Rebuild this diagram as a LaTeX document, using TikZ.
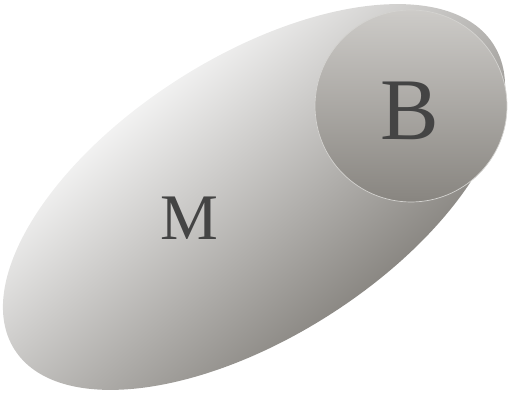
\documentclass[tikz,border=0pt]{standalone}
\usepackage{fontspec}
\setmainfont{Liberation Serif}
\usepackage{tikz}

\definecolor{setlight}{HTML}{F8F8F8}
\definecolor{setdark}{HTML}{84817C}
\definecolor{subtop}{HTML}{CDCBC8}
\definecolor{subbottom}{HTML}{888580}
\definecolor{labelgray}{HTML}{444444}

\pgfdeclareverticalshading{setshade}{100bp}{color(0bp)=(setdark); color(33bp)=(setdark); color(67bp)=(setlight); color(100bp)=(setlight)}

\begin{document}
\begin{tikzpicture}[
        x=0.02cm,
        y=0.02cm,
        bigset/.style={shading=setshade, shading angle=40},
        subset/.style={top color=subtop, bottom color=subbottom, draw=subtop!85!white, line width=0.4pt},
        setlabel/.style={text=labelgray, inner sep=0pt}
    ]
        \useasboundingbox (0,0) rectangle (509,392);

        \shade[bigset] (254,195) ellipse [x radius=5.68cm, y radius=2.8cm, rotate=32.5];
        \shade[subset] (411,286) circle [radius=1.92cm];

        \node[setlabel, font=\fontsize{37}{40}\selectfont] (m) at (189,174) {M};
        \node[setlabel, font=\fontsize{50}{54}\selectfont] (b) at (410,281) {B};
    \end{tikzpicture}
\end{document}
